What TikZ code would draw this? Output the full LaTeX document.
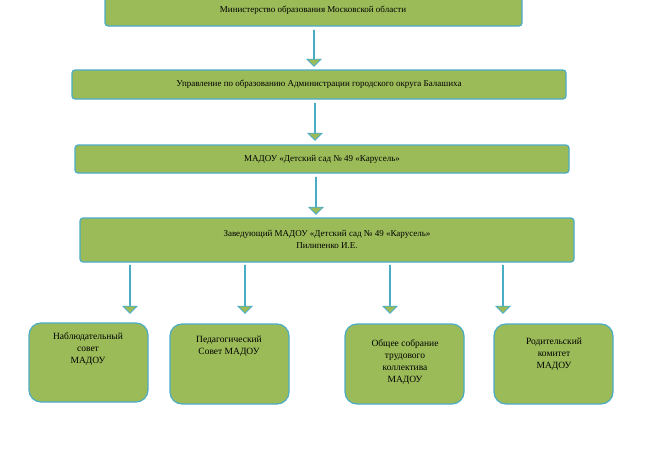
\documentclass[tikz,border=0pt]{standalone}
\usepackage{fontspec}
\setmainfont{Liberation Serif}
\usetikzlibrary{shapes.arrows}
\definecolor{gfill}{HTML}{9BBB59}
\definecolor{tborder}{HTML}{4BACC6}
\begin{document}
\begin{tikzpicture}[x=1pt,y=-1pt,
  box/.style={draw=tborder,line width=1.2pt,fill=gfill,rounded corners=3pt,align=center,font=\fontsize{9}{11}\selectfont,inner sep=2pt},
  sbox/.style={draw=tborder,line width=1.2pt,fill=gfill,rounded corners=12pt,align=center,font=\fontsize{9.5}{12}\selectfont,inner sep=0pt},
  barrow/.style={draw=tborder,line width=0.8pt,fill=gfill,single arrow,shape border rotate=270,single arrow head extend=6pt,minimum width=14pt,single arrow tip angle=90,inner sep=0pt}]
\useasboundingbox (0,0) rectangle (657,450);
\begin{scope}
\clip (0,0) rectangle (657,450);
\path[box] (105,-6) rectangle (522,26);
\end{scope}
\node[font=\fontsize{9}{11}\selectfont] (t1) at (313,10) {Министерство образования Московской области};
\path[box] (72,70) rectangle (566,99) node[midway] (t2) {Управление по образованию Администрации городского округа Балашиха};
\path[box] (75,145) rectangle (569,173) node[midway] (t3) {МАДОУ «Детский сад № 49 «Карусель»};
\path[box] (80,218) rectangle (574,262);
\node[align=center,font=\fontsize{9}{12}\selectfont] (t4) at (327,239) {Заведующий МАДОУ «Детский сад № 49 «Карусель»\\Пилипенко И.Е.};
\foreach \x/\a/\b in {314/30/66, 315/103/140, 316/177/214, 130/265/313, 245/265/313, 390/265/313, 503/265/313}{
  \node[barrow,minimum height={\b-\a}] at (\x,{(\a+\b)/2}) {};
}
\path[sbox] (29,323) rectangle (148,402);
\node[align=center,font=\fontsize{9.5}{12}\selectfont] (ba) at (88,349) {Наблюдательный\\совет\\МАДОУ};
\path[sbox] (170,324) rectangle (289,404);
\node[align=center,font=\fontsize{9.5}{12}\selectfont] (bb) at (229,346) {Педагогический\\Совет МАДОУ};
\path[sbox] (345,324) rectangle (464,404);
\node[align=center,font=\fontsize{9.5}{12}\selectfont] (bc) at (405,362) {Общее собрание\\трудового\\коллектива\\МАДОУ};
\path[sbox] (494,324) rectangle (613,404);
\node[align=center,font=\fontsize{9.5}{12}\selectfont] (bd) at (554,354) {Родительский\\комитет\\МАДОУ};
\end{tikzpicture}
\end{document}
